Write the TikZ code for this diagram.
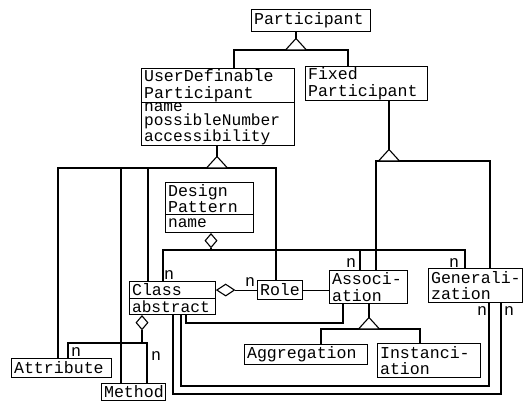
\documentclass[tikz,border=0pt]{standalone}
\usepackage{fontspec}
\newfontfamily\umlfont{Liberation Mono}
\usetikzlibrary{shapes.geometric}

\tikzset{
  x=1pt, y=-1pt,
  umlline/.style={line width=1.1pt},
  box/.style={draw, umlline, anchor=north west, inner xsep=2.5pt, inner ysep=0pt,
    align=left, font={\umlfont\fontsize{16.6}{16.5}\selectfont\hyphenpenalty=10000\exhyphenpenalty=10000}},
  attrbox/.style={box, font={\umlfont\fontsize{16.2}{13.6}\selectfont\hyphenpenalty=10000\exhyphenpenalty=10000}},
  nlab/.style={inner sep=0pt, font={\umlfont\fontsize{16.6}{16.5}\selectfont}},
  aggdia/.style={diamond, draw, umlline, fill=white, inner sep=0pt, aspect=1},
  gentri/.pic={\draw[umlline, fill=white] (-10.5,0) -- (0,-11.5) -- (10.5,0) -- cycle;}
}
% box of given width and height
\newcommand{\umlbox}[6][box]{%
  \node[#1, minimum width=#4pt, minimum height=#5pt, text width=#4pt-5pt] (#2) at (#3) {#6};}

\begin{document}
\begin{tikzpicture}
\fill[white] (0,0) rectangle (525,401);
\useasboundingbox (0,0) rectangle (525,401);

% classes
\umlbox{participant}{251,9}{119}{22}{Participant}
\umlbox{udp}{141,68}{153}{34}{UserDefinable\\Participant}
\umlbox[attrbox]{udpAttr}{141,102}{153}{43}{name\\possibleNumber\\accessibility}
\umlbox{fixed}{305,66}{122}{34}{Fixed\\Participant}
\umlbox{dp}{165,182}{88}{32}{Design\\Pattern}
\umlbox[attrbox]{dpAttr}{165,214}{88}{18}{name}
\umlbox{cls}{129,281}{86}{17}{Class}
\umlbox[attrbox]{clsAttr}{129,298}{86}{16}{abstract}
\umlbox{role}{257,280}{45}{19}{Role}
\umlbox{assoc}{329,270}{78}{33}{Associ-\\ation}
\umlbox{gen}{428,268}{94}{34}{Generali-\\zation}
\umlbox{aggr}{244,344}{123}{20}{Aggregation}
\umlbox{inst}{377,343}{103}{34}{Instanci-\\ation}
\umlbox{attr}{11,358}{100}{19}{Attribute}
\umlbox{meth}{101,383}{64}{17}{Method}

% Participant specialisation
\coordinate (pT) at (296,50);
\coordinate (pL) at (234,50);
\coordinate (pR) at (348,50);
\draw[umlline] (pT |- participant.south) -- (pT);
\draw[umlline] (udp.north -| pL) -- (pL) -- (pR) -- (fixed.north -| pR);
\pic at (pT) {gentri};

% UserDefinableParticipant specialisation
\coordinate (uT) at (217,168);
\coordinate (uA) at (58,168);
\coordinate (uM) at (121,168);
\coordinate (uC) at (148,168);
\coordinate (uR) at (276,168);
\draw[umlline] (uT |- udpAttr.south) -- (uT);
\draw[umlline] (attr.north -| uA) -- (uA) -- (uR) -- (role.north -| uR);
\draw[umlline] (uM) -- (meth.north -| uM);
\draw[umlline] (uC) -- (cls.north -| uC);
\pic at (uT) {gentri};

% FixedParticipant specialisation
\coordinate (fT) at (389,161);
\coordinate (fA) at (376,161);
\coordinate (fG) at (490,161);
\draw[umlline] (fT |- fixed.south) -- (fT);
\draw[umlline] (assoc.north -| fA) -- (fA) -- (fG) -- (gen.north -| fG);
\pic at (fT) {gentri};

% Association specialisation
\coordinate (aT) at (369,329);
\coordinate (aL) at (321,329);
\coordinate (aR) at (420,329);
\draw[umlline] (aT |- assoc.south) -- (aT);
\draw[umlline] (aggr.north -| aL) -- (aL) -- (aR) -- (inst.north -| aR);
\pic at (aT) {gentri};

% DesignPattern aggregation
\coordinate (dJ) at (211,250);
\coordinate (dC) at (163,250);
\coordinate (dA) at (360,250);
\coordinate (dG) at (465,250);
\node[aggdia, anchor=north, minimum width=12pt, minimum height=14pt] (dpDia) at (dJ |- dpAttr.south) {};
\draw[umlline] (dpDia.south) -- (dJ);
\draw[umlline] (cls.north -| dC) -- (dC) -- (dG) -- (gen.north -| dG);
\draw[umlline] (dA) -- (assoc.north -| dA);

% Class aggregates Role
\node[aggdia, anchor=west, minimum width=18pt, minimum height=12pt] (clsDia) at (cls.east) {};
\draw[umlline] (clsDia.east) -- (role.west);

% Class aggregates Attribute and Method
\coordinate (kM) at (142,343);
\coordinate (kA) at (68,343);
\coordinate (kB) at (147,343);
\node[aggdia, anchor=north, minimum width=12pt, minimum height=14pt] (clsDia2) at (kM |- clsAttr.south) {};
\draw[umlline] (clsDia2.south) -- (kM);
\draw[umlline] (attr.north -| kA) -- (kA) -- (kB) -- (meth.north -| kB);

% Role -- Association
\draw[umlline] (role.east) -- (assoc.west |- role.east);

% Class -- Association
\coordinate (cA1) at (186,323);
\coordinate (cA2) at (343,323);
\draw[umlline] (clsAttr.south -| cA1) -- (cA1) -- (cA2) -- (assoc.south -| cA2);

% Class -- Generalization (two links)
\coordinate (g1a) at (181,386);
\coordinate (g1b) at (489,386);
\draw[umlline] (clsAttr.south -| g1a) -- (g1a) -- (g1b) -- (gen.south -| g1b);
\coordinate (g2a) at (173,394);
\coordinate (g2b) at (501,394);
\draw[umlline] (clsAttr.south -| g2a) -- (g2a) -- (g2b) -- (gen.south -| g2b);

% multiplicities
\node[nlab] (nCls) at (169,275) {n};
\node[nlab] (nRole) at (250,282) {n};
\node[nlab] (nAssoc) at (351,263) {n};
\node[nlab] (nGenTop) at (454,263) {n};
\node[nlab] (nGen1) at (482,311) {n};
\node[nlab] (nGen2) at (509,311) {n};
\node[nlab] (nAttr) at (76,352) {n};
\node[nlab] (nMeth) at (156,356) {n};
\end{tikzpicture}
\end{document}
